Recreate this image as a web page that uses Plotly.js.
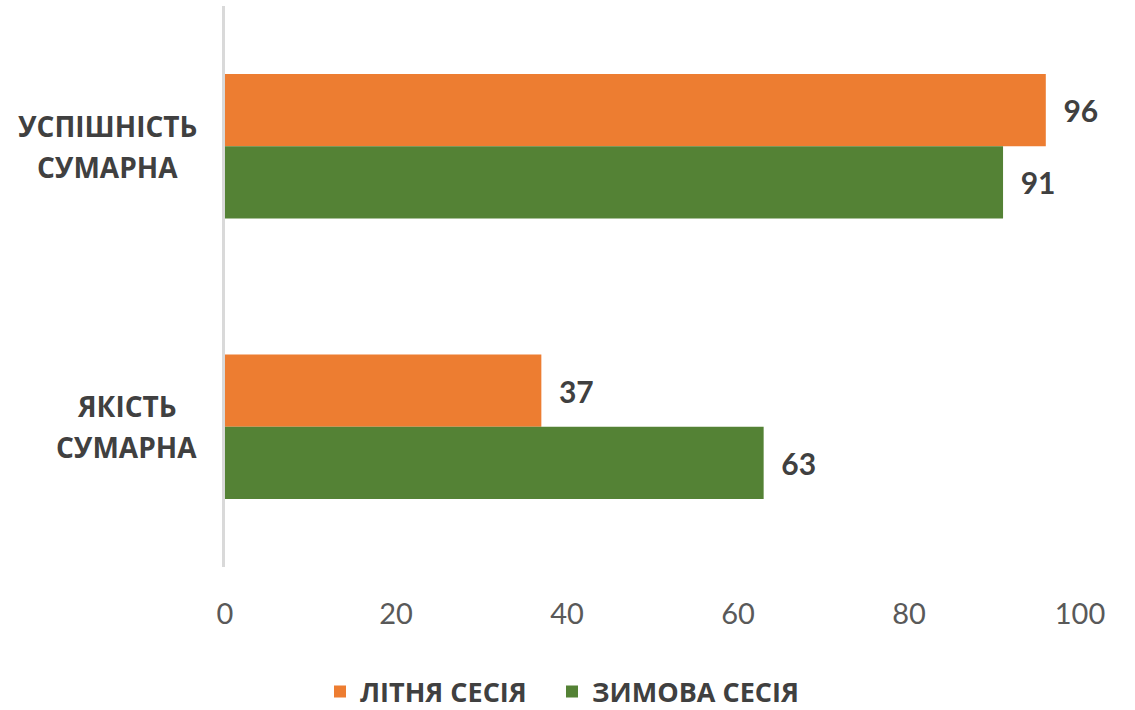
<!DOCTYPE html>
<html><head><meta charset="utf-8">
<script src="https://cdn.plot.ly/plotly-3.0.1.min.js"></script>
<style>html,body{margin:0;padding:0;background:#fff}#chart{width:1135px;height:710px}</style>
</head><body><div id="chart"></div>
<script>
const categories = ["УСПІШНІСТЬ СУМАРНА", "ЯКІСТЬ СУМАРНА"];
const categoryLines = [["УСПІШНІСТЬ", "СУМАРНА"], ["ЯКІСТЬ", "СУМАРНА"]];
const seriesNames = ["ЛІТНЯ СЕСІЯ", "ЗИМОВА СЕСІЯ"];
const summerValues = [96, 37];
const winterValues = [91, 63];
const xTicks = [0, 20, 40, 60, 80, 100];

const LABEL_FONT = '"Open Sans", sans-serif';
const NUM_FONT = 'Lato, "Open Sans", sans-serif';
const colors = ["#ED7D31", "#548235"];

function mk(name, vals, color, legendId) {
  return {
    type: 'bar', orientation: 'h', name: name,
    y: categories, x: vals,
    marker: {color: color},
    text: vals.map(v => String(v)),
    texttemplate: '  %{text}',
    textposition: 'outside',
    cliponaxis: false,
    constraintext: 'none',
    textfont: {family: NUM_FONT, size: 30, color: '#404040', weight: 'bold'},
    legend: legendId,
    hoverinfo: 'skip'
  };
}

const data = [
  mk(seriesNames[0], summerValues, colors[0], 'legend'),
  mk(seriesNames[1], winterValues, colors[1], 'legend2')
];

// category labels: centered lines inside a right-aligned block
const catSize = 28;
const cv = document.createElement('canvas').getContext('2d');
cv.font = 'bold ' + catSize + 'px "Open Sans"';
const rightEdge = -28; // px from plot left
const lineGap = 41;
const annotations = [];
categories.forEach((c, i) => {
  const lines = categoryLines[i];
  const blockW = Math.max(...lines.map(t => cv.measureText(t).width));
  const centerShift = rightEdge - blockW / 2;
  lines.forEach((t, j) => {
    annotations.push({
      xref: 'paper', yref: 'y', x: 0, y: c, xanchor: 'center', yanchor: 'middle',
      xshift: centerShift, yshift: ((lines.length - 1) / 2 - j) * lineGap,
      showarrow: false, text: t,
      font: {family: LABEL_FONT, size: catSize, color: '#404040', weight: 'bold'}
    });
  });
});

const legFont = {family: LABEL_FONT, size: 27, color: '#404040', weight: 'bold'};
const layout = {
  width: 1135, height: 710,
  margin: {l: 225, r: 55, t: 6, b: 143},
  paper_bgcolor: '#fff', plot_bgcolor: '#fff',
  barmode: 'group', bargap: 0.484, bargroupgap: 0,
  showlegend: true,
  legend: {orientation: 'h', x: 320 / 1135, xanchor: 'left', xref: 'container', y: 0.0254, yanchor: 'middle', yref: 'container',
    font: legFont, itemwidth: 30},
  legend2: {orientation: 'h', x: 552 / 1135, xanchor: 'left', xref: 'container', y: 0.0254, yanchor: 'middle', yref: 'container',
    font: legFont, itemwidth: 30},
  xaxis: {range: [0, 100], tickvals: xTicks, ticktext: xTicks.map(String), showgrid: false, zeroline: false,
    showline: false, ticks: '', tickfont: {family: NUM_FONT, size: 29, color: '#595959'}, ticklabelstandoff: 27, fixedrange: true},
  yaxis: {autorange: 'reversed', showticklabels: false, showgrid: false, zeroline: false,
    showline: true, linecolor: '#d9d9d9', linewidth: 3, ticks: '', fixedrange: true},
  annotations: annotations
};

Plotly.newPlot('chart', data, layout, {displayModeBar: false, staticPlot: true});
</script></body></html>
